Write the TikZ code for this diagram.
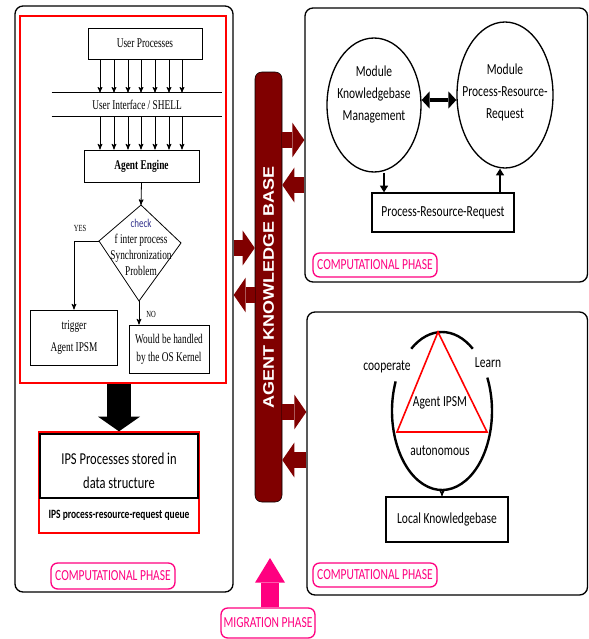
\documentclass[tikz,border=0pt]{standalone}
\usepackage{fontspec}
\setmainfont{Liberation Serif}
\newfontfamily\wordserif[FakeStretch=0.7]{Liberation Serif}
\newfontfamily\wordsans[FakeStretch=0.75]{Carlito}
\newfontfamily\barfont{Liberation Sans}
\usepackage{tikz}
\usetikzlibrary{arrows,arrows.meta,shapes.geometric}

\definecolor{kbred}{RGB}{128,0,0}
\definecolor{phasepink}{RGB}{255,0,128}
\definecolor{checkblue}{RGB}{48,48,140}

% one pixel of the drawing
\newdimen\px
\px=0.75pt

\tikzset{
    %Define standard arrow tip
    >=stealth',
    %Define style for the phase frames
    frame/.style={
           rectangle,
           rounded corners=6pt,
           draw=black, line width=1pt,
           inner sep=0pt,
           },
    redframe/.style={
           rectangle,
           draw=red, line width=1.2pt,
           inner sep=0pt,
           },
    %Define style for boxes
    flowbox/.style={
           rectangle,
           draw=black, line width=0.6pt,
           font=\wordserif\fontsize{10}{12}\selectfont,
           align=center,
           inner sep=0pt,
           },
    flowtext/.style={
           font=\wordserif\fontsize{10}{12}\selectfont,
           align=center,
           inner sep=0pt,
           },
    rbox/.style={
           rectangle,
           draw=black, line width=1pt,
           font=\wordsans\fontsize{11.5}{14}\selectfont,
           align=center,
           inner sep=0pt,
           },
    module/.style={
           ellipse,
           draw=black, line width=1pt,
           inner sep=0pt,
           },
    modtext/.style={
           font=\wordsans\fontsize{11.5}{16.5}\selectfont,
           align=center,
           },
    rtext/.style={
           font=\wordsans\fontsize{11.5}{14}\selectfont,
           inner sep=0pt,
           },
    phase/.style={
           rectangle,
           rounded corners=5pt,
           draw=phasepink, line width=1pt,
           text=phasepink,
           font=\wordsans\fontsize{11.5}{14}\selectfont,
           inner sep=0pt,
           },
    kbbar/.style={
           rectangle,
           rounded corners=5pt,
           draw=black, fill=kbred,
           text=white,
           font=\barfont\bfseries\fontsize{13.5}{16}\selectfont,
           inner sep=0pt,
           },
    % Define arrow styles
    pil/.style={->, line width=0.6pt},
    tri/.style={-{Triangle[length=5pt,width=6pt]}, line width=1pt},
    kbarrow/.style={
           draw=kbred, line width=12pt,
           -{Triangle[length=9pt,width=26pt,line width=0pt]},
           },
    bigarrow/.style={
           draw=black, line width=18pt,
           -{Triangle[length=11pt,width=31.5pt,line width=0pt]},
           },
    migarrow/.style={
           draw=phasepink, line width=13.5pt,
           -{Triangle[length=18.5pt,width=22.5pt,line width=0pt]},
           },
    dblarrow/.style={
           line width=3.5pt,
           {Triangle[length=6pt,width=13pt,line width=0pt]}-{Triangle[length=6pt,width=13pt,line width=0pt]},
           },
}

\begin{document}
\begin{tikzpicture}[x=0.75pt,y=-0.75pt]

\path[use as bounding box, fill=white] (0,0) rectangle (589,639);

 %frames
\node[frame, minimum width=218\px, minimum height=586\px](leftphase) at (124,299){};
\node[frame, minimum width=282.5\px, minimum height=274\px](rtop) at (446.25,145){};
\node[frame, minimum width=280.5\px, minimum height=283\px](rbot) at (447.25,453.5){};
\node[redframe, minimum width=206\px, minimum height=367\px](core) at (123,199.5){};

 %left flow chart
\node[flowbox, minimum width=114\px, minimum height=31\px](userproc) at (145,43.5){User Processes};
\node[flowtext, minimum width=170\px, minimum height=23\px](shell) at (137,104.5){User Interface / SHELL};
\draw[line width=0.6pt] (shell.north west) -- (shell.north east)
    (shell.south west) -- (shell.south east);
\node[flowbox, font=\wordserif\bfseries\fontsize{10}{12}\selectfont,
    minimum width=115\px, minimum height=32\px](engine) at (141.5,166){Agent Engine};
\foreach \x in {100,114,128,141,155,169,182}{
    \draw[pil] (userproc.south -| \x,0) -- (shell.north -| \x,0);
    \draw[pil] (shell.south -| \x,0) -- (engine.north -| \x,0);
}

\coordinate (chkT) at (141,205);
\coordinate (chkR) at (181,243);
\coordinate (chkB) at (139,301);
\coordinate (chkL) at (99,241);
\draw[line width=0.6pt] (chkT) -- (chkR) -- (chkB) -- (chkL) -- cycle;
\node[flowtext](chk) at (141,247){{\wordsans\fontsize{9}{12}\selectfont\color{checkblue}check}\\f inter process\\Synchronization\\Problem};

\node[flowbox, font=\wordserif\fontsize{10}{16}\selectfont,
    minimum width=87\px, minimum height=55\px](trig) at (74,337.5){trigger\\Agent IPSM};
\node[flowbox, font=\wordserif\fontsize{10}{13.5}\selectfont,
    minimum width=80\px, minimum height=48\px](hand) at (169,349){Would be handled\\by the OS Kernel};
\node[flowtext, font=\wordserif\fontsize{7}{8}\selectfont](yes) at (80,228){YES};
\node[flowtext, font=\wordserif\fontsize{7}{8}\selectfont](no) at (151,314){NO};
\path[pil] (engine.south) edge (chkT)
    (chkB) edge (chkB |- hand.north);
\draw[pil] (chkL) -| (trig.north);

\node[rectangle, draw=red, line width=1pt, minimum width=160\px, minimum height=101\px](ips) at (119,482.5){};
\node[rbox, minimum width=158\px, minimum height=64\px,
    label={[rtext, font=\wordsans\fontsize{12.5}{18}\selectfont, align=center, yshift=-3.75pt]center:IPS Processes stored in\\data structure}](ipsdata) at (119,466){};
\node[rtext, font=\wordsans\bfseries\fontsize{9.5}{12}\selectfont](queue) at (119,515){IPS process-resource-request queue};
\draw[bigarrow] (core.south -| ips.north) -- (ips.north);

\node[phase, minimum width=124\px, minimum height=26\px](phL) at (113,576){COMPUTATIONAL PHASE};

 %knowledge base
\node[kbbar, minimum width=27\px, minimum height=430\px](kb) at (268.5,287){\rotatebox{90}{\scalebox{1}[0.85]{AGENT KNOWLEDGE BASE}}};
\draw[kbarrow] (kb.east |- 0,140) -- (rtop.west |- 0,140);
\draw[kbarrow] (rtop.west |- 0,185) -- (kb.east |- 0,185);
\draw[kbarrow] (leftphase.east |- 0,248) -- (kb.west |- 0,248);
\draw[kbarrow] (kb.west |- 0,295) -- (leftphase.east |- 0,295);
\draw[kbarrow] (kb.east |- 0,412) -- (rbot.west |- 0,412);
\draw[kbarrow] (rbot.west |- 0,460) -- (kb.east |- 0,460);

 %upper computational phase
\node[module, minimum width=94\px, minimum height=134\px,
    label={[modtext, yshift=8.25pt]center:Module\\Knowledgebase\\Management}](kbm) at (374,105){};
\node[module, minimum width=96\px, minimum height=146\px,
    label={[modtext, yshift=2pt]center:Module\\Process-Resource-\\Request}](prr) at (505,95){};
\draw[dblarrow] (kbm.east |- 0,100) -- (prr.west |- 0,100);
\node[rbox, minimum width=142\px, minimum height=39\px](prrbox) at (443,212.5){Process-Resource-Request};
\draw[tri] (kbm.south -| 384,0) -- (prrbox.north -| 384,0);
\draw[tri] (prrbox.north -| 500,0) -- (prr.south -| 500,0);
\node[phase, minimum width=124\px, minimum height=24\px](phR1) at (375,265){COMPUTATIONAL PHASE};

 %lower computational phase
\coordinate (ipsm) at (442,411);
\draw[line width=1.8pt] ([shift={(ipsm)}]-128:50 and 79) arc[start angle=-128, end angle=-52, x radius=50, y radius=79];
\draw[line width=1.8pt] ([shift={(ipsm)}]-158:50 and 79) arc[start angle=-158, end angle=-385, x radius=50, y radius=79];
\coordinate (triT) at (438,332);
\coordinate (triL) at (397,432);
\coordinate (triR) at (487,432);
\draw[red, line width=1.2pt] (triT) -- (triR) -- (triL) -- cycle;
\node[rtext](coop) at (387,367){cooperate};
\node[rtext](learn) at (488,363){Learn};
\node[rtext](agent) at (440,403){Agent IPSM};
\node[rtext](auto) at (440,451){autonomous};
\node[rbox, minimum width=122\px, minimum height=45\px](lkb) at (447,519.5){Local Knowledgebase};
\draw[pil] (ipsm |- 0,490) -- (ipsm |- lkb.north);
\node[phase, minimum width=124\px, minimum height=24\px](phR2) at (375,575){COMPUTATIONAL PHASE};

 %migration
\node[phase, minimum width=94\px, minimum height=30\px](mig) at (268,623){MIGRATION PHASE};
\coordinate (migtip) at (270,558);
\draw[migarrow] (mig.north -| migtip) -- (migtip);

\end{tikzpicture}
\end{document}
